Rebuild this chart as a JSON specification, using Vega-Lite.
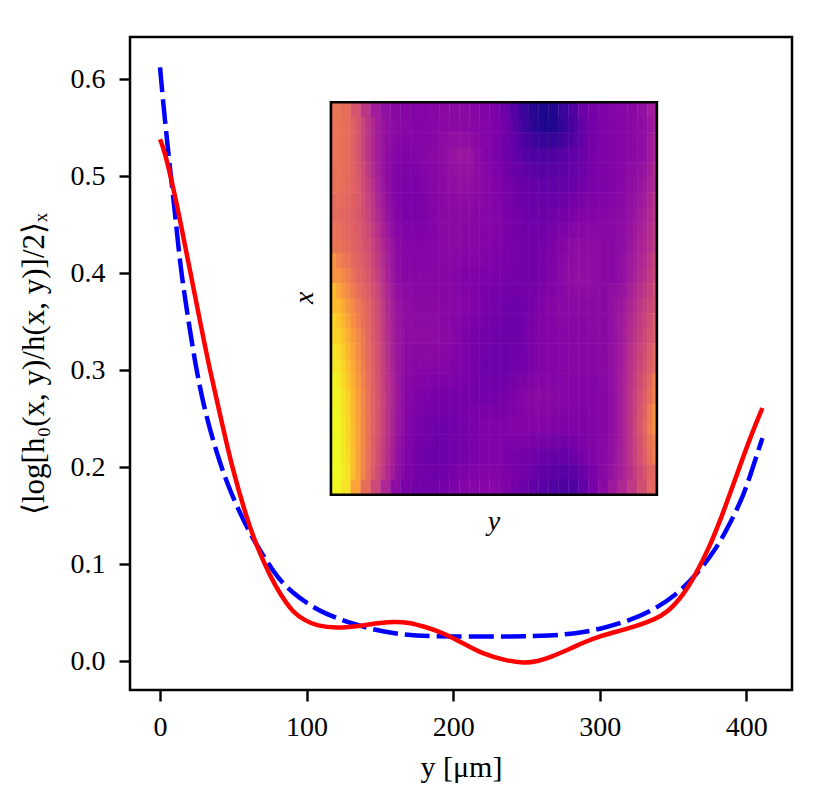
{"$schema":"https://vega.github.io/schema/vega-lite/v6.json","width":662,"height":653,"autosize":{"type":"none"},"padding":{"left":130,"top":37,"right":38,"bottom":119},"background":"white","config":{"view":{"stroke":"black","strokeWidth":2.5},"font":"Liberation Serif"},
"datasets":{
"red":[{"y":0,"v":0.538},{"y":2,"v":0.53},{"y":4.5,"v":0.517},{"y":9,"v":0.488},{"y":13.6,"v":0.455},{"y":20.4,"v":0.403},{"y":28.4,"v":0.342},{"y":34,"v":0.3},{"y":41,"v":0.254},{"y":49,"v":0.2},{"y":60,"v":0.143},{"y":67,"v":0.115},{"y":75,"v":0.088},{"y":82,"v":0.069},{"y":90.8,"v":0.05},{"y":99,"v":0.042},{"y":107,"v":0.0365},{"y":120.6,"v":0.034},{"y":134,"v":0.036},{"y":147,"v":0.039},{"y":159,"v":0.041},{"y":170,"v":0.04},{"y":179.6,"v":0.036},{"y":190,"v":0.031},{"y":198,"v":0.0255},{"y":210,"v":0.016},{"y":220,"v":0.008},{"y":235,"v":0.001},{"y":248,"v":-0.002},{"y":258,"v":0},{"y":266,"v":0.004},{"y":280,"v":0.013},{"y":290,"v":0.02},{"y":300,"v":0.026},{"y":315,"v":0.032},{"y":327.5,"v":0.0375},{"y":337,"v":0.043},{"y":345.6,"v":0.0495},{"y":357,"v":0.068},{"y":366,"v":0.091},{"y":375,"v":0.118},{"y":384,"v":0.152},{"y":393,"v":0.19},{"y":402,"v":0.228},{"y":411,"v":0.261}],
"blue":[{"y":0,"v":0.612},{"y":2,"v":0.578},{"y":4,"v":0.548},{"y":7,"v":0.505},{"y":10,"v":0.465},{"y":14,"v":0.405},{"y":18,"v":0.365},{"y":22,"v":0.325},{"y":27,"v":0.283},{"y":32,"v":0.25},{"y":38.6,"v":0.215},{"y":46,"v":0.182},{"y":54.5,"v":0.153},{"y":60,"v":0.136},{"y":67,"v":0.117},{"y":75,"v":0.098},{"y":82,"v":0.083},{"y":90.6,"v":0.0705},{"y":100,"v":0.06},{"y":111,"v":0.05},{"y":129.6,"v":0.0393},{"y":152,"v":0.03},{"y":175,"v":0.026},{"y":198,"v":0.0255},{"y":243,"v":0.0255},{"y":266,"v":0.0262},{"y":285,"v":0.029},{"y":300,"v":0.033},{"y":320,"v":0.042},{"y":334.5,"v":0.051},{"y":352,"v":0.068},{"y":366,"v":0.089},{"y":380,"v":0.117},{"y":389,"v":0.1425},{"y":398,"v":0.17},{"y":404.5,"v":0.2},{"y":411,"v":0.23}],
"heat":[
{"r":0,"c":0,"v":0.62},{"r":0,"c":1,"v":0.6},{"r":0,"c":2,"v":0.52},{"r":0,"c":3,"v":0.42},{"r":0,"c":4,"v":0.33},{"r":0,"c":5,"v":0.29},{"r":0,"c":6,"v":0.27},{"r":0,"c":7,"v":0.26},{"r":0,"c":8,"v":0.25},{"r":0,"c":9,"v":0.25},{"r":0,"c":10,"v":0.26},{"r":0,"c":11,"v":0.27},{"r":0,"c":12,"v":0.27},{"r":0,"c":13,"v":0.27},{"r":0,"c":14,"v":0.26},{"r":0,"c":15,"v":0.25},{"r":0,"c":16,"v":0.23},{"r":0,"c":17,"v":0.2},{"r":0,"c":18,"v":0.14},{"r":0,"c":19,"v":0.08},{"r":0,"c":20,"v":0.04},{"r":0,"c":21,"v":0.02},{"r":0,"c":22,"v":0.03},{"r":0,"c":23,"v":0.08},{"r":0,"c":24,"v":0.13},{"r":0,"c":25,"v":0.2},{"r":0,"c":26,"v":0.22},{"r":0,"c":27,"v":0.24},{"r":0,"c":28,"v":0.25},{"r":0,"c":29,"v":0.26},{"r":0,"c":30,"v":0.27},{"r":0,"c":31,"v":0.29},{"r":0,"c":32,"v":0.33},
{"r":1,"c":0,"v":0.62},{"r":1,"c":1,"v":0.6},{"r":1,"c":2,"v":0.52},{"r":1,"c":3,"v":0.42},{"r":1,"c":4,"v":0.33},{"r":1,"c":5,"v":0.28},{"r":1,"c":6,"v":0.25},{"r":1,"c":7,"v":0.24},{"r":1,"c":8,"v":0.25},{"r":1,"c":9,"v":0.26},{"r":1,"c":10,"v":0.27},{"r":1,"c":11,"v":0.29},{"r":1,"c":12,"v":0.31},{"r":1,"c":13,"v":0.31},{"r":1,"c":14,"v":0.28},{"r":1,"c":15,"v":0.25},{"r":1,"c":16,"v":0.23},{"r":1,"c":17,"v":0.2},{"r":1,"c":18,"v":0.17},{"r":1,"c":19,"v":0.14},{"r":1,"c":20,"v":0.12},{"r":1,"c":21,"v":0.12},{"r":1,"c":22,"v":0.13},{"r":1,"c":23,"v":0.15},{"r":1,"c":24,"v":0.17},{"r":1,"c":25,"v":0.2},{"r":1,"c":26,"v":0.23},{"r":1,"c":27,"v":0.24},{"r":1,"c":28,"v":0.25},{"r":1,"c":29,"v":0.26},{"r":1,"c":30,"v":0.27},{"r":1,"c":31,"v":0.29},{"r":1,"c":32,"v":0.35},
{"r":2,"c":0,"v":0.61},{"r":2,"c":1,"v":0.59},{"r":2,"c":2,"v":0.54},{"r":2,"c":3,"v":0.45},{"r":2,"c":4,"v":0.35},{"r":2,"c":5,"v":0.28},{"r":2,"c":6,"v":0.24},{"r":2,"c":7,"v":0.23},{"r":2,"c":8,"v":0.23},{"r":2,"c":9,"v":0.25},{"r":2,"c":10,"v":0.26},{"r":2,"c":11,"v":0.28},{"r":2,"c":12,"v":0.29},{"r":2,"c":13,"v":0.29},{"r":2,"c":14,"v":0.28},{"r":2,"c":15,"v":0.26},{"r":2,"c":16,"v":0.24},{"r":2,"c":17,"v":0.22},{"r":2,"c":18,"v":0.2},{"r":2,"c":19,"v":0.19},{"r":2,"c":20,"v":0.18},{"r":2,"c":21,"v":0.17},{"r":2,"c":22,"v":0.17},{"r":2,"c":23,"v":0.18},{"r":2,"c":24,"v":0.2},{"r":2,"c":25,"v":0.22},{"r":2,"c":26,"v":0.23},{"r":2,"c":27,"v":0.24},{"r":2,"c":28,"v":0.25},{"r":2,"c":29,"v":0.27},{"r":2,"c":30,"v":0.29},{"r":2,"c":31,"v":0.32},{"r":2,"c":32,"v":0.38},
{"r":3,"c":0,"v":0.59},{"r":3,"c":1,"v":0.57},{"r":3,"c":2,"v":0.53},{"r":3,"c":3,"v":0.47},{"r":3,"c":4,"v":0.38},{"r":3,"c":5,"v":0.3},{"r":3,"c":6,"v":0.25},{"r":3,"c":7,"v":0.23},{"r":3,"c":8,"v":0.23},{"r":3,"c":9,"v":0.24},{"r":3,"c":10,"v":0.26},{"r":3,"c":11,"v":0.27},{"r":3,"c":12,"v":0.27},{"r":3,"c":13,"v":0.27},{"r":3,"c":14,"v":0.26},{"r":3,"c":15,"v":0.26},{"r":3,"c":16,"v":0.25},{"r":3,"c":17,"v":0.23},{"r":3,"c":18,"v":0.21},{"r":3,"c":19,"v":0.2},{"r":3,"c":20,"v":0.2},{"r":3,"c":21,"v":0.2},{"r":3,"c":22,"v":0.21},{"r":3,"c":23,"v":0.22},{"r":3,"c":24,"v":0.24},{"r":3,"c":25,"v":0.25},{"r":3,"c":26,"v":0.25},{"r":3,"c":27,"v":0.26},{"r":3,"c":28,"v":0.27},{"r":3,"c":29,"v":0.28},{"r":3,"c":30,"v":0.31},{"r":3,"c":31,"v":0.35},{"r":3,"c":32,"v":0.41},
{"r":4,"c":0,"v":0.62},{"r":4,"c":1,"v":0.59},{"r":4,"c":2,"v":0.55},{"r":4,"c":3,"v":0.5},{"r":4,"c":4,"v":0.42},{"r":4,"c":5,"v":0.33},{"r":4,"c":6,"v":0.27},{"r":4,"c":7,"v":0.25},{"r":4,"c":8,"v":0.25},{"r":4,"c":9,"v":0.25},{"r":4,"c":10,"v":0.26},{"r":4,"c":11,"v":0.27},{"r":4,"c":12,"v":0.27},{"r":4,"c":13,"v":0.26},{"r":4,"c":14,"v":0.26},{"r":4,"c":15,"v":0.25},{"r":4,"c":16,"v":0.24},{"r":4,"c":17,"v":0.23},{"r":4,"c":18,"v":0.22},{"r":4,"c":19,"v":0.21},{"r":4,"c":20,"v":0.21},{"r":4,"c":21,"v":0.22},{"r":4,"c":22,"v":0.24},{"r":4,"c":23,"v":0.26},{"r":4,"c":24,"v":0.28},{"r":4,"c":25,"v":0.28},{"r":4,"c":26,"v":0.28},{"r":4,"c":27,"v":0.27},{"r":4,"c":28,"v":0.27},{"r":4,"c":29,"v":0.29},{"r":4,"c":30,"v":0.33},{"r":4,"c":31,"v":0.37},{"r":4,"c":32,"v":0.43},
{"r":5,"c":0,"v":0.71},{"r":5,"c":1,"v":0.65},{"r":5,"c":2,"v":0.58},{"r":5,"c":3,"v":0.53},{"r":5,"c":4,"v":0.45},{"r":5,"c":5,"v":0.35},{"r":5,"c":6,"v":0.28},{"r":5,"c":7,"v":0.26},{"r":5,"c":8,"v":0.26},{"r":5,"c":9,"v":0.26},{"r":5,"c":10,"v":0.26},{"r":5,"c":11,"v":0.26},{"r":5,"c":12,"v":0.25},{"r":5,"c":13,"v":0.24},{"r":5,"c":14,"v":0.24},{"r":5,"c":15,"v":0.23},{"r":5,"c":16,"v":0.23},{"r":5,"c":17,"v":0.22},{"r":5,"c":18,"v":0.22},{"r":5,"c":19,"v":0.21},{"r":5,"c":20,"v":0.21},{"r":5,"c":21,"v":0.23},{"r":5,"c":22,"v":0.25},{"r":5,"c":23,"v":0.28},{"r":5,"c":24,"v":0.29},{"r":5,"c":25,"v":0.29},{"r":5,"c":26,"v":0.28},{"r":5,"c":27,"v":0.27},{"r":5,"c":28,"v":0.27},{"r":5,"c":29,"v":0.3},{"r":5,"c":30,"v":0.35},{"r":5,"c":31,"v":0.4},{"r":5,"c":32,"v":0.47},
{"r":6,"c":0,"v":0.81},{"r":6,"c":1,"v":0.72},{"r":6,"c":2,"v":0.63},{"r":6,"c":3,"v":0.57},{"r":6,"c":4,"v":0.49},{"r":6,"c":5,"v":0.38},{"r":6,"c":6,"v":0.3},{"r":6,"c":7,"v":0.28},{"r":6,"c":8,"v":0.27},{"r":6,"c":9,"v":0.27},{"r":6,"c":10,"v":0.27},{"r":6,"c":11,"v":0.26},{"r":6,"c":12,"v":0.26},{"r":6,"c":13,"v":0.25},{"r":6,"c":14,"v":0.24},{"r":6,"c":15,"v":0.22},{"r":6,"c":16,"v":0.21},{"r":6,"c":17,"v":0.2},{"r":6,"c":18,"v":0.2},{"r":6,"c":19,"v":0.21},{"r":6,"c":20,"v":0.23},{"r":6,"c":21,"v":0.25},{"r":6,"c":22,"v":0.26},{"r":6,"c":23,"v":0.27},{"r":6,"c":24,"v":0.27},{"r":6,"c":25,"v":0.27},{"r":6,"c":26,"v":0.27},{"r":6,"c":27,"v":0.27},{"r":6,"c":28,"v":0.3},{"r":6,"c":29,"v":0.33},{"r":6,"c":30,"v":0.39},{"r":6,"c":31,"v":0.45},{"r":6,"c":32,"v":0.5},
{"r":7,"c":0,"v":0.87},{"r":7,"c":1,"v":0.78},{"r":7,"c":2,"v":0.68},{"r":7,"c":3,"v":0.59},{"r":7,"c":4,"v":0.5},{"r":7,"c":5,"v":0.39},{"r":7,"c":6,"v":0.31},{"r":7,"c":7,"v":0.28},{"r":7,"c":8,"v":0.28},{"r":7,"c":9,"v":0.28},{"r":7,"c":10,"v":0.28},{"r":7,"c":11,"v":0.27},{"r":7,"c":12,"v":0.25},{"r":7,"c":13,"v":0.23},{"r":7,"c":14,"v":0.22},{"r":7,"c":15,"v":0.21},{"r":7,"c":16,"v":0.2},{"r":7,"c":17,"v":0.2},{"r":7,"c":18,"v":0.2},{"r":7,"c":19,"v":0.22},{"r":7,"c":20,"v":0.24},{"r":7,"c":21,"v":0.25},{"r":7,"c":22,"v":0.25},{"r":7,"c":23,"v":0.26},{"r":7,"c":24,"v":0.26},{"r":7,"c":25,"v":0.26},{"r":7,"c":26,"v":0.27},{"r":7,"c":27,"v":0.27},{"r":7,"c":28,"v":0.3},{"r":7,"c":29,"v":0.35},{"r":7,"c":30,"v":0.42},{"r":7,"c":31,"v":0.48},{"r":7,"c":32,"v":0.54},
{"r":8,"c":0,"v":0.91},{"r":8,"c":1,"v":0.82},{"r":8,"c":2,"v":0.71},{"r":8,"c":3,"v":0.6},{"r":8,"c":4,"v":0.51},{"r":8,"c":5,"v":0.4},{"r":8,"c":6,"v":0.31},{"r":8,"c":7,"v":0.27},{"r":8,"c":8,"v":0.26},{"r":8,"c":9,"v":0.26},{"r":8,"c":10,"v":0.26},{"r":8,"c":11,"v":0.25},{"r":8,"c":12,"v":0.24},{"r":8,"c":13,"v":0.23},{"r":8,"c":14,"v":0.21},{"r":8,"c":15,"v":0.2},{"r":8,"c":16,"v":0.2},{"r":8,"c":17,"v":0.2},{"r":8,"c":18,"v":0.21},{"r":8,"c":19,"v":0.22},{"r":8,"c":20,"v":0.24},{"r":8,"c":21,"v":0.25},{"r":8,"c":22,"v":0.25},{"r":8,"c":23,"v":0.26},{"r":8,"c":24,"v":0.26},{"r":8,"c":25,"v":0.26},{"r":8,"c":26,"v":0.26},{"r":8,"c":27,"v":0.27},{"r":8,"c":28,"v":0.3},{"r":8,"c":29,"v":0.36},{"r":8,"c":30,"v":0.44},{"r":8,"c":31,"v":0.51},{"r":8,"c":32,"v":0.59},
{"r":9,"c":0,"v":0.94},{"r":9,"c":1,"v":0.86},{"r":9,"c":2,"v":0.74},{"r":9,"c":3,"v":0.62},{"r":9,"c":4,"v":0.52},{"r":9,"c":5,"v":0.41},{"r":9,"c":6,"v":0.32},{"r":9,"c":7,"v":0.26},{"r":9,"c":8,"v":0.24},{"r":9,"c":9,"v":0.23},{"r":9,"c":10,"v":0.22},{"r":9,"c":11,"v":0.22},{"r":9,"c":12,"v":0.22},{"r":9,"c":13,"v":0.22},{"r":9,"c":14,"v":0.21},{"r":9,"c":15,"v":0.21},{"r":9,"c":16,"v":0.21},{"r":9,"c":17,"v":0.22},{"r":9,"c":18,"v":0.24},{"r":9,"c":19,"v":0.26},{"r":9,"c":20,"v":0.27},{"r":9,"c":21,"v":0.27},{"r":9,"c":22,"v":0.26},{"r":9,"c":23,"v":0.25},{"r":9,"c":24,"v":0.25},{"r":9,"c":25,"v":0.25},{"r":9,"c":26,"v":0.25},{"r":9,"c":27,"v":0.26},{"r":9,"c":28,"v":0.3},{"r":9,"c":29,"v":0.37},{"r":9,"c":30,"v":0.46},{"r":9,"c":31,"v":0.55},{"r":9,"c":32,"v":0.66},
{"r":10,"c":0,"v":0.95},{"r":10,"c":1,"v":0.87},{"r":10,"c":2,"v":0.75},{"r":10,"c":3,"v":0.62},{"r":10,"c":4,"v":0.52},{"r":10,"c":5,"v":0.41},{"r":10,"c":6,"v":0.31},{"r":10,"c":7,"v":0.25},{"r":10,"c":8,"v":0.22},{"r":10,"c":9,"v":0.21},{"r":10,"c":10,"v":0.2},{"r":10,"c":11,"v":0.2},{"r":10,"c":12,"v":0.21},{"r":10,"c":13,"v":0.22},{"r":10,"c":14,"v":0.23},{"r":10,"c":15,"v":0.24},{"r":10,"c":16,"v":0.24},{"r":10,"c":17,"v":0.24},{"r":10,"c":18,"v":0.25},{"r":10,"c":19,"v":0.25},{"r":10,"c":20,"v":0.25},{"r":10,"c":21,"v":0.25},{"r":10,"c":22,"v":0.24},{"r":10,"c":23,"v":0.24},{"r":10,"c":24,"v":0.24},{"r":10,"c":25,"v":0.24},{"r":10,"c":26,"v":0.25},{"r":10,"c":27,"v":0.26},{"r":10,"c":28,"v":0.3},{"r":10,"c":29,"v":0.37},{"r":10,"c":30,"v":0.47},{"r":10,"c":31,"v":0.58},{"r":10,"c":32,"v":0.71},
{"r":11,"c":0,"v":0.97},{"r":11,"c":1,"v":0.88},{"r":11,"c":2,"v":0.75},{"r":11,"c":3,"v":0.61},{"r":11,"c":4,"v":0.5},{"r":11,"c":5,"v":0.39},{"r":11,"c":6,"v":0.29},{"r":11,"c":7,"v":0.24},{"r":11,"c":8,"v":0.21},{"r":11,"c":9,"v":0.2},{"r":11,"c":10,"v":0.19},{"r":11,"c":11,"v":0.2},{"r":11,"c":12,"v":0.21},{"r":11,"c":13,"v":0.22},{"r":11,"c":14,"v":0.23},{"r":11,"c":15,"v":0.24},{"r":11,"c":16,"v":0.24},{"r":11,"c":17,"v":0.23},{"r":11,"c":18,"v":0.22},{"r":11,"c":19,"v":0.21},{"r":11,"c":20,"v":0.2},{"r":11,"c":21,"v":0.19},{"r":11,"c":22,"v":0.18},{"r":11,"c":23,"v":0.18},{"r":11,"c":24,"v":0.2},{"r":11,"c":25,"v":0.23},{"r":11,"c":26,"v":0.25},{"r":11,"c":27,"v":0.27},{"r":11,"c":28,"v":0.31},{"r":11,"c":29,"v":0.37},{"r":11,"c":30,"v":0.46},{"r":11,"c":31,"v":0.55},{"r":11,"c":32,"v":0.66},
{"r":12,"c":0,"v":1},{"r":12,"c":1,"v":0.9},{"r":12,"c":2,"v":0.75},{"r":12,"c":3,"v":0.6},{"r":12,"c":4,"v":0.48},{"r":12,"c":5,"v":0.37},{"r":12,"c":6,"v":0.28},{"r":12,"c":7,"v":0.23},{"r":12,"c":8,"v":0.21},{"r":12,"c":9,"v":0.21},{"r":12,"c":10,"v":0.21},{"r":12,"c":11,"v":0.22},{"r":12,"c":12,"v":0.23},{"r":12,"c":13,"v":0.25},{"r":12,"c":14,"v":0.26},{"r":12,"c":15,"v":0.26},{"r":12,"c":16,"v":0.26},{"r":12,"c":17,"v":0.24},{"r":12,"c":18,"v":0.22},{"r":12,"c":19,"v":0.2},{"r":12,"c":20,"v":0.17},{"r":12,"c":21,"v":0.15},{"r":12,"c":22,"v":0.13},{"r":12,"c":23,"v":0.12},{"r":12,"c":24,"v":0.13},{"r":12,"c":25,"v":0.17},{"r":12,"c":26,"v":0.22},{"r":12,"c":27,"v":0.27},{"r":12,"c":28,"v":0.32},{"r":12,"c":29,"v":0.37},{"r":12,"c":30,"v":0.43},{"r":12,"c":31,"v":0.5},{"r":12,"c":32,"v":0.58}
]},
"resolve":{"scale":{"x":"independent","y":"independent"}},
"layer":[
{"data":{"name":"heat"},"mark":{"type":"rect","strokeWidth":0.4},"encoding":{
"x":{"field":"c","type":"ordinal","axis":null,"scale":{"range":[201,527.5],"paddingInner":0,"paddingOuter":0}},
"y":{"field":"r","type":"ordinal","axis":null,"scale":{"range":[65,457.7],"paddingInner":0,"paddingOuter":0}},
"color":{"field":"v","type":"quantitative","legend":null,"scale":{"scheme":"plasma","domain":[0,0.95],"clamp":true}},
"stroke":{"field":"v","type":"quantitative","legend":null,"scale":{"scheme":"plasma","domain":[0,0.95],"clamp":true}}}},
{"data":{"name":"heat"},"transform":[{"filter":"datum.c<32 && datum.r<12"}],"mark":{"type":"rect","opacity":0.5},"encoding":{
"x":{"field":"c","type":"ordinal","axis":null,"scale":{"range":[205.95,522.55],"paddingInner":0,"paddingOuter":0}},
"y":{"field":"r","type":"ordinal","axis":null,"scale":{"range":[80.1,442.6],"paddingInner":0,"paddingOuter":0}},
"color":{"field":"v","type":"quantitative","legend":null,"scale":{"scheme":"plasma","domain":[0,0.95],"clamp":true}}}},
{"encoding":{
"x":{"type":"quantitative","scale":{"domain":[-20.5,431.2],"nice":false,"zero":false},"axis":{"values":[0,100,200,300,400],"format":"d","title":"y [μm]","grid":false,"domain":false,"tickSize":11,"tickWidth":2.4,"tickColor":"black","labelFontSize":28,"labelColor":"black","labelFont":"Liberation Serif","labelPadding":12,"titleFont":"Liberation Serif","titleFontSize":30,"titleFontWeight":"normal","titleColor":"black","titlePadding":11}},
"y":{"type":"quantitative","scale":{"domain":[-0.0296,0.6433],"nice":false,"zero":false},"axis":{"values":[0,0.1,0.2,0.3,0.4,0.5,0.6],"format":".1f","title":"⟨log[h₀(x, y)/h(x, y)]/2⟩ₓ","grid":false,"domain":false,"tickSize":11,"tickWidth":2.4,"tickColor":"black","labelFontSize":28,"labelColor":"black","labelFont":"Liberation Serif","labelPadding":14,"titleFont":"Liberation Serif","titleFontSize":31,"titleFontWeight":"normal","titleColor":"black","titlePadding":20}}},
"layer":[
{"data":{"name":"blue"},"mark":{"type":"line","color":"#0000ff","strokeWidth":4.5,"strokeDash":[25,7],"interpolate":"basis"},"encoding":{"x":{"field":"y","type":"quantitative"},"y":{"field":"v","type":"quantitative"}}},
{"data":{"name":"red"},"mark":{"type":"line","color":"#ff0000","strokeWidth":4.5,"interpolate":"basis"},"encoding":{"x":{"field":"y","type":"quantitative"},"y":{"field":"v","type":"quantitative"}}},
{"data":{"values":[{}]},"mark":{"type":"rect","fillOpacity":0,"stroke":"black","strokeWidth":2.6},"encoding":{"x":{"datum":116.6},"x2":{"datum":339},"y":{"datum":0.1716},"y2":{"datum":0.5761}}},
{"data":{"values":[{}]},"mark":{"type":"text","text":"y","font":"Liberation Serif","fontStyle":"italic","fontSize":28,"color":"black"},"encoding":{"x":{"datum":227.8},"y":{"datum":0.1436}}},
{"data":{"values":[{}]},"mark":{"type":"text","text":"x","font":"Liberation Serif","fontStyle":"italic","fontSize":28,"color":"black","angle":270},"encoding":{"x":{"datum":98.9},"y":{"datum":0.3745}}}
]}
]}
